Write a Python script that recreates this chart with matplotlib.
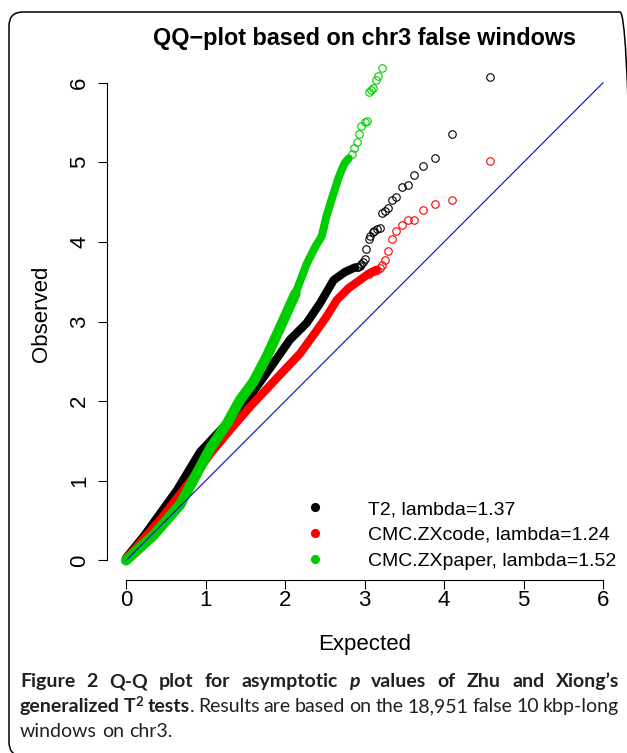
import matplotlib
matplotlib.use("Agg")
import matplotlib.pyplot as plt
from matplotlib.lines import Line2D
from matplotlib.patches import FancyBboxPatch
from matplotlib.transforms import IdentityTransform

# values (expected vs observed -log10 p)
# dense part of each QQ curve (drawn as a thick band)
t2_band_x = [0.00, 0.22, 0.64, 0.93, 1.25, 1.48, 1.60, 1.85, 2.06, 2.27, 2.44, 2.61, 2.75, 2.88]
t2_band_y = [0.03, 0.30, 0.88, 1.36, 1.70, 1.93, 2.12, 2.47, 2.77, 2.98, 3.23, 3.52, 3.62, 3.68]
code_band_x = [0.00, 0.43, 0.85, 1.06, 1.31, 1.56, 1.85, 2.19, 2.40, 2.52, 2.65, 2.80, 2.94, 3.05, 3.15]
code_band_y = [0.02, 0.51, 1.05, 1.34, 1.64, 1.93, 2.24, 2.60, 2.89, 3.06, 3.27, 3.42, 3.52, 3.60, 3.65]
paper_band_x = [0.00, 0.34, 0.68, 1.06, 1.27, 1.43, 1.60, 1.77, 1.94, 2.13]
paper_band_y = [0.00, 0.31, 0.70, 1.41, 1.72, 2.01, 2.24, 2.56, 2.93, 3.35]
paper_upper_x = [2.13, 2.27, 2.38, 2.46, 2.52, 2.59, 2.63, 2.67, 2.71, 2.75, 2.80]
paper_upper_y = [3.35, 3.72, 3.94, 4.07, 4.32, 4.55, 4.67, 4.80, 4.90, 4.99, 5.05]

# sparse tail points (open circles)
t2_tail_x = [4.58, 4.10, 3.88, 3.73, 3.62, 3.54, 3.47, 3.40, 3.35, 3.30, 3.26, 3.22, 3.19, 3.15,
             3.12, 3.10, 3.07, 3.05, 3.02, 3.00, 2.98, 2.96, 2.94, 2.92, 2.90]
t2_tail_y = [6.07, 5.36, 5.05, 4.95, 4.84, 4.71, 4.69, 4.56, 4.53, 4.42, 4.39, 4.36, 4.17, 4.16,
             4.14, 4.12, 4.08, 4.04, 3.91, 3.79, 3.75, 3.72, 3.70, 3.69, 3.68]
code_tail_x = [4.58, 4.10, 3.88, 3.73, 3.62, 3.54, 3.47, 3.40, 3.35, 3.30, 3.26, 3.22, 3.19, 3.15,
               3.12, 3.08, 3.05]
code_tail_y = [5.02, 4.53, 4.47, 4.40, 4.28, 4.27, 4.21, 4.14, 4.04, 3.88, 3.77, 3.71, 3.67, 3.65,
               3.63, 3.62, 3.60]
paper_tail_x = [2.84, 2.87, 2.90, 2.93, 2.96, 3.00, 3.03, 3.05, 3.08, 3.10, 3.14, 3.17, 3.22]
paper_tail_y = [5.11, 5.18, 5.25, 5.35, 5.45, 5.50, 5.52, 5.88, 5.91, 5.93, 6.03, 6.08, 6.18]

labels = ["T2, lambda=1.37", "CMC.ZXcode, lambda=1.24", "CMC.ZXpaper, lambda=1.52"]
colors = ["black", "#ff0000", "#00cd00"]
ticks = [0, 1, 2, 3, 4, 5, 6]

FONT = "Liberation Sans"
W, H = 627, 753

fig = plt.figure(figsize=(W / 100, H / 100), dpi=100)
ax = fig.add_axes([107 / W, 1 - 580 / H, 515.2 / W, 531.3 / H])
ax.set_xlim(-0.24, 6.24)
ax.set_ylim(-0.247, 6.427)

band = dict(solid_capstyle="round", solid_joinstyle="round")
ring = dict(mfc="none", ms=5.4, mew=0.8, ls="")
ax.plot(t2_band_x, t2_band_y, color=colors[0], lw=6.0, **band)
ax.plot(t2_tail_x, t2_tail_y, marker="o", mec=colors[0], **ring)
ax.plot(code_band_x, code_band_y, color=colors[1], lw=6.0, **band)
ax.plot(code_tail_x, code_tail_y, marker="o", mec=colors[1], **ring)
ax.plot(paper_band_x, paper_band_y, color=colors[2], lw=7.5, **band)
ax.plot(paper_upper_x, paper_upper_y, color=colors[2], lw=5.8, **band)
ax.plot(paper_tail_x, paper_tail_y, marker="o", mec=colors[2], **ring)

ax.plot([0, 6], [0, 6], color="blue", lw=0.8)

# R style axes
for s in ["top", "right"]:
    ax.spines[s].set_visible(False)
for s in ["left", "bottom"]:
    ax.spines[s].set_bounds(0, 6)
    ax.spines[s].set_linewidth(0.8)
ax.set_xticks(ticks)
ax.set_yticks(ticks)
ax.tick_params(length=6.5, width=0.8, labelbottom=False, labelleft=False)

for v in ticks:
    ax.text(v, (580 - 606) / 531.3, str(v), transform=ax.get_xaxis_transform(),
            ha="center", va="baseline", fontsize=16, family=FONT)
    ax.text((85 - 107) / 515.2, v, str(v), transform=ax.get_yaxis_transform(),
            rotation=90, rotation_mode="anchor", ha="center", va="baseline",
            fontsize=16, family=FONT)

fig.text(364.5 / W, 1 - 650 / H, "Expected", ha="center", va="baseline", fontsize=16, family=FONT)
fig.text(47 / W, 1 - 314 / H, "Observed", rotation=90, rotation_mode="anchor",
         ha="center", va="baseline", fontsize=16, family=FONT)
fig.text(364.5 / W, 1 - 45 / H, "QQ\u2212plot based on chr3 false windows", ha="center",
         va="baseline", fontsize=16.8, fontweight="bold", family=FONT)

handles = [Line2D([], [], marker="o", ls="", color=c, ms=5.6) for c in colors]
ax.legend(handles, labels, loc="upper left", bbox_to_anchor=(295.6 / W, 1 - 500.5 / H),
          bbox_transform=fig.transFigure, frameon=False, borderpad=0, borderaxespad=0,
          handlelength=2, handletextpad=1.73, labelspacing=0.42,
          prop={"family": FONT, "size": 14})

# caption below the plot
CAP = "Lato"
cap_size = 14
renderer = fig.canvas.get_renderer()


def caption_line(y_px, tokens, justify):
    # tokens: (text, weight, style, attached, raise_px, size)
    x0, x1 = 20, 619
    objs = []
    for text, weight, style, attached, rise, size in tokens:
        t = fig.text(0, 1 - (y_px - rise) / H, text, fontsize=size, fontweight=weight,
                     fontstyle=style, family=CAP, color="#231f20", va="baseline")
        objs.append((t, attached))
    widths = [t.get_window_extent(renderer).width for t, _ in objs]
    sp = fig.text(0, 0, "a b", fontsize=cap_size, family=CAP)
    sp_w = sp.get_window_extent(renderer).width
    sp.set_text("ab")
    sp_w -= sp.get_window_extent(renderer).width
    sp.remove()
    gaps = sum(1 for _, a in objs[1:] if not a)
    space = (x1 - x0 - sum(widths)) / gaps if justify and gaps else sp_w
    x = x0
    for i, ((t, attached), w) in enumerate(zip(objs, widths)):
        if i and not attached:
            x += space
        t.set_x(x / W)
        x += w


B, R = "bold", "normal"
line1 = [(w, B, "normal", False, 0, cap_size)
         for w in "Figure 2 Q-Q plot for asymptotic".split()]
line1.append(("p", B, "italic", False, 0, cap_size))
line1 += [(w, B, "normal", False, 0, cap_size) for w in "values of Zhu and Xiong\u2019s".split()]
line2 = [("generalized", B, "normal", False, 0, cap_size), ("T", B, "normal", False, 0, cap_size),
         ("2", B, "normal", True, 6, 9.5), ("tests", B, "normal", False, 0, cap_size),
         (".", R, "normal", True, 0, cap_size)]
line2 += [(w, R, "normal", False, 0, cap_size)
          for w in "Results are based on the 18,951 false 10 kbp-long".split()]
line3 = [(w, R, "normal", False, 0, cap_size) for w in "windows on chr3.".split()]

caption_line(687, line1, True)
caption_line(712, line2, True)
caption_line(737, line3, False)

fig.add_artist(FancyBboxPatch((9, -3), 625, 744, boxstyle="round,pad=0,rounding_size=14",
                              transform=IdentityTransform(), fill=False, ec="black", lw=1.1))

fig.savefig("out.png", dpi=100)
